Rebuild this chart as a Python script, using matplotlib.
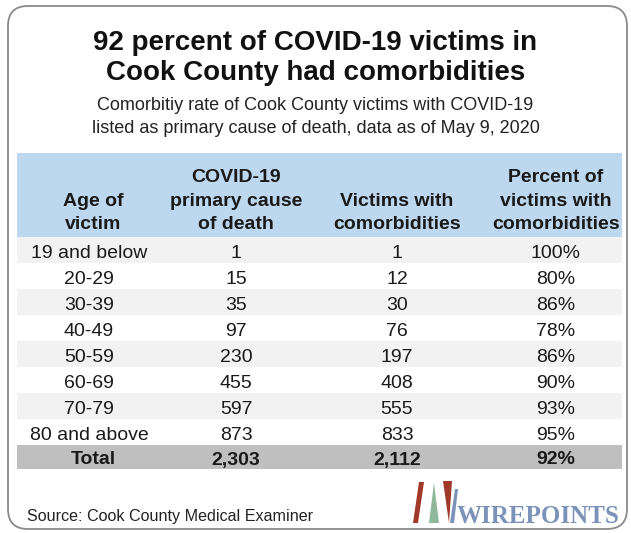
import matplotlib
matplotlib.use("Agg")
import matplotlib.pyplot as plt
from matplotlib.patches import FancyBboxPatch, Rectangle, Polygon

plt.rcParams['font.family'] = ['Liberation Sans', 'DejaVu Sans']

title = "92 percent of COVID-19 victims in\nCook County had comorbidities"
subtitle = "Comorbitiy rate of Cook County victims with COVID-19\nlisted as primary cause of death, data as of May 9, 2020"
headers = ["Age of\nvictim", "COVID-19\nprimary cause\nof death", "Victims with\ncomorbidities",
           "Percent of\nvictims with\ncomorbidities"]
ages = ["19 and below", "20-29", "30-39", "40-49", "50-59", "60-69", "70-79", "80 and above"]
primary = ["1", "15", "35", "97", "230", "455", "597", "873"]
comorb = ["1", "12", "30", "76", "197", "408", "555", "833"]
percent = ["100%", "80%", "86%", "78%", "86%", "90%", "93%", "95%"]
total = ["Total", "2,303", "2,112", "92%"]
source = "Source: Cook County Medical Examiner"

W, H = 631, 533
fig = plt.figure(figsize=(W / 100, H / 100), dpi=100)
ax = fig.add_axes([0, 0, 1, 1])
ax.set_xlim(0, W)
ax.set_ylim(H, 0)
ax.axis('off')

# outer rounded frame
ax.add_patch(FancyBboxPatch((8, 6), 619, 523, boxstyle="round,pad=0,rounding_size=20",
                            fc='white', ec='#8a8a8a', lw=1.3))

ax.text(W / 2, 58, title, ha='center', va='center', fontsize=20, fontweight='bold',
        color='#111111', linespacing=1.2)
ax.text(W / 2, 117, subtitle, ha='center', va='center', fontsize=13, color='#222222',
        linespacing=1.42)

left, right = 17, 622
col_x = [89, 236, 397, 556]
head_x = [93, 236, 397, 556]

# header band
ax.add_patch(Rectangle((left, 153), right - left, 84, fc='#BDD7EE', ec='none'))
for cx, h in zip(head_x, headers):
    ax.text(cx, 233, h, ha='center', va='bottom', fontsize=14, fontweight='bold',
            color='#1a1a1a', linespacing=1.5)

row_top = 237
row_h = 26
for i, row in enumerate(zip(ages, primary, comorb, percent)):
    y0 = row_top + i * row_h
    if i % 2 == 0:
        ax.add_patch(Rectangle((left, y0), right - left, row_h, fc='#F2F2F2', ec='none'))
    for cx, v in zip(col_x, row):
        ax.text(cx, y0 + row_h / 2 + 3.5, v, ha='center', va='center', fontsize=14,
                color='#1a1a1a')

ty0 = row_top + len(ages) * row_h
ax.add_patch(Rectangle((left, ty0), right - left, 24, fc='#BFBFBF', ec='none'))
for cx, v in zip(head_x, total):
    ax.text(cx, ty0 + 15, v, ha='center', va='center', fontsize=14, fontweight='bold',
            color='#1a1a1a')

ax.text(27, 517, source, ha='left', va='center', fontsize=11.6, color='#222222')

# logo
ax.add_patch(Polygon([[413, 523], [418, 523], [424, 482], [419, 482]], closed=True,
                     fc='#A0392A', ec='none'))
ax.add_patch(Polygon([[429, 523], [439, 523], [434, 483]], closed=True,
                     fc='#8FB89A', ec='none'))
ax.add_patch(Polygon([[443, 481], [452, 481], [449, 523]], closed=True,
                     fc='#A0392A', ec='none'))
ax.add_patch(Polygon([[450, 523], [454, 523], [458, 489], [455, 489]], closed=True,
                     fc='#7A93B8', ec='none'))
ax.text(457, 523, "WIREPOINTS", ha='left', va='baseline', fontsize=18, fontweight='bold',
        family='Liberation Serif', color='#7B93B9')

fig.savefig("out.png", dpi=100)
